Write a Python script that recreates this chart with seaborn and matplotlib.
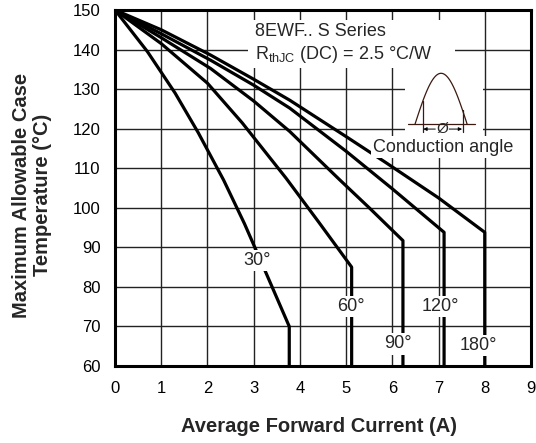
import numpy as np
import pandas as pd
import matplotlib
matplotlib.use("Agg")
import matplotlib.pyplot as plt
from matplotlib.patches import Rectangle
import seaborn as sns

# conduction angle curves: average forward current (A) vs max case temp (C)
i_30 = [0, 0.7, 1.3, 1.8, 2.35, 2.8, 3.25, 3.77, 3.77]
t_30 = [150, 139.5, 129, 119, 107, 96, 84, 70, 60]
i_60 = [0, 1.0, 2.0, 2.75, 3.7, 4.4, 5.12, 5.12]
t_60 = [150, 141.5, 131.5, 121.5, 107.5, 96.5, 85, 60]
i_90 = [0, 1.0, 2.07, 3.0, 3.78, 4.85, 5.5, 6.23, 6.23]
t_90 = [150, 143, 135.2, 127, 119.3, 107.2, 100, 91.7, 60]
i_120 = [0, 1.0, 2.07, 3.0, 3.78, 5.0, 6.0, 7.12, 7.12]
t_120 = [150, 144, 137.3, 131, 125.2, 114.3, 104.8, 93.8, 60]
i_180 = [0, 1.0, 2.07, 3.0, 3.78, 5.0, 5.85, 7.0, 8.0, 8.0]
t_180 = [150, 145, 138.6, 132.5, 127.2, 118, 111.5, 102.5, 93.8, 60]

angles = ["30°", "60°", "90°", "120°", "180°"]
curr = [i_30, i_60, i_90, i_120, i_180]
temp = [t_30, t_60, t_90, t_120, t_180]
label_pos = [(3.08, 86.6), (5.1, 75), (6.13, 65.6), (7.05, 75), (7.87, 65.2)]

x_ticks = list(range(0, 10))
y_ticks = list(range(60, 151, 10))

rows = []
for a, xs, ys in zip(angles, curr, temp):
    for k, (x, y) in enumerate(zip(xs, ys)):
        rows.append({"angle": a, "order": k, "I": x, "T": y})
df = pd.DataFrame(rows)

sns.set_style("white")
plt.rcParams["font.family"] = ["Liberation Sans", "DejaVu Sans"]
plt.rcParams["mathtext.default"] = "regular"

fig = plt.figure(figsize=(5.36, 4.43), dpi=100)
ax = fig.add_axes([0.2146, 0.1738, 0.776, 0.8036])

sns.lineplot(data=df, x="I", y="T", hue="angle", units="angle", estimator=None,
             sort=False, palette=["black"] * 5, linewidth=2.3, legend=False,
             ax=ax, zorder=2)

ax.set_xlim(0, 9)
ax.set_ylim(60, 150)
ax.set_xticks(x_ticks)
ax.set_yticks(y_ticks)
ax.tick_params(length=0, labelsize=12, pad=10.5, colors="black")
ax.set_axisbelow(True)
ax.grid(True, color="#222222", linewidth=1.0)
for s in ax.spines.values():
    s.set_linewidth(2.2)
    s.set_color("black")

ax.set_xlabel("Average Forward Current (A)", fontsize=14.5, fontweight="bold")
ax.set_ylabel("Maximum Allowable Case\nTemperature (°C)", fontsize=14.5,
              fontweight="bold", linespacing=1.15)
ax.xaxis.set_label_coords(0.49, -0.143)
ax.yaxis.set_label_coords(-0.152, 0.48)

# white patches hiding grid under annotation text / inset
ax.add_patch(Rectangle((2.88, 135.4), 4.47, 12.2, facecolor="white",
                       edgecolor="none", zorder=3))
ax.add_patch(Rectangle((6.28, 117.5), 1.69, 18.0, facecolor="white",
                       edgecolor="none", zorder=3))

ax.text(3.03, 144.6, "8EWF.. S Series", fontsize=13, va="center", zorder=4)
ax.text(3.03, 138.7, "R$_{thJC}$ (DC) = 2.5 °C/W", fontsize=13,
        va="center", zorder=4)

# conduction angle sketch
xs = np.linspace(6.49, 7.62, 60)
ys = 121.1 + 12.9 * np.sin(np.pi * (xs - 6.49) / 1.13)
wc = "#3a1a10"
ax.plot(xs, ys, color=wc, lw=0.9, zorder=4)
ax.plot([6.35, 7.79], [121.1, 121.1], color=wc, lw=0.9, zorder=4)
for xv in (6.66, 7.52):
    yv = 121.1 + 12.9 * np.sin(np.pi * (xv - 6.49) / 1.13)
    ax.plot([xv, xv], [119.2, yv], color=wc, lw=0.9, zorder=4)
ax.text(7.08, 119.9, "Ø", fontsize=11, ha="center", va="center", zorder=5)
for x0, x1 in ((6.93, 6.67), (7.23, 7.51)):
    ax.annotate("", xy=(x1, 119.9), xytext=(x0, 119.9), zorder=5,
                arrowprops=dict(arrowstyle="-|>", lw=0.7, color="black",
                                mutation_scale=5, shrinkA=0, shrinkB=0))

ax.text(7.11, 115.3, "Conduction angle", fontsize=13, ha="center",
        va="center", zorder=5,
        bbox=dict(boxstyle="square,pad=0.15", facecolor="white", edgecolor="none"))

for a, (lx, ly) in zip(angles, label_pos):
    ax.text(lx, ly, a, fontsize=13, ha="center", va="center", zorder=5,
            bbox=dict(boxstyle="square,pad=0.12", facecolor="white",
                      edgecolor="none"))

fig.savefig("out.png", dpi=100)
